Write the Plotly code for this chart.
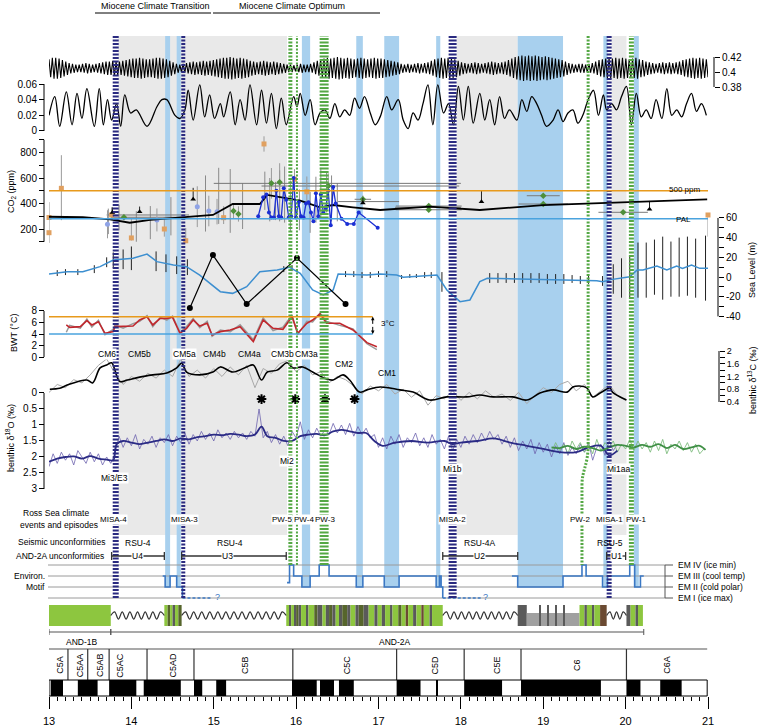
import numpy as np
import plotly.graph_objects as go

W, H = 759, 726

# ---------------- data (ages in Ma) ----------------
# obliquity: amplitude of each ~41 kyr cycle (x 0.001) around 0.405
obl_amp = [12, 14, 14, 13, 11,
           9, 7, 6, 5, 5, 6, 7, 6, 5, 6, 7,
           8, 9, 9, 10, 9, 9, 10,
           11, 12, 13, 13, 14, 13, 12, 12,
           13, 14, 14, 13, 12, 10, 8,
           6, 5, 6,
           7, 8, 9, 8, 9, 10, 9, 10,
           11, 12, 13, 14, 14, 15, 14, 13, 14, 13, 12,
           10, 9, 8, 9, 10, 9, 8, 9, 8, 7,
           6, 5, 5, 4, 5, 6, 5, 5, 6, 8,
           10, 12, 13, 14, 13, 14, 15, 14, 13, 14, 13, 12, 13, 14, 13, 12, 13, 14, 13,
           13, 12, 11, 10, 9, 8,
           6, 5, 6, 5, 6, 7, 6, 7, 8,
           10, 12, 13, 14, 13, 14, 13, 12, 10,
           8, 7, 6, 7, 8, 7, 6, 7, 8, 9, 8, 7, 8, 9,
           11, 13, 15, 16, 17, 16, 17, 16, 17, 16, 15, 16, 15, 14, 13, 12, 11, 9,
           7, 6, 5, 6, 6, 5, 6, 7,
           9, 11, 12, 13, 14, 13, 14, 13, 14, 13, 12, 13, 14, 12, 11, 9,
           8, 7, 6, 7, 8, 7, 8, 7, 8, 9,
           11, 12, 13, 14, 13, 14, 13, 12]

ecc_age = [13.00, 13.07, 13.13, 13.21, 13.28, 13.34, 13.40, 13.46, 13.55, 13.61, 13.66, 13.71, 13.76, 13.82,
           13.87, 13.92, 13.99, 14.06, 14.19, 14.31, 14.37, 14.43, 14.53, 14.59, 14.65, 14.69, 14.75, 14.83,
           14.89, 14.95, 15.01, 15.08, 15.12, 15.20, 15.26, 15.32, 15.38, 15.44, 15.52, 15.58, 15.64, 15.70,
           15.76, 15.82, 15.88, 15.97, 16.01, 16.05, 16.11, 16.17, 16.23, 16.29, 16.35, 16.41, 16.47, 16.53,
           16.59, 16.65, 16.71, 16.77, 16.83, 16.90, 16.96, 17.02, 17.10, 17.16, 17.24, 17.30, 17.36, 17.42,
           17.48, 17.54, 17.60, 17.66, 17.72, 17.79, 17.85, 17.91, 17.97, 18.03, 18.09, 18.15, 18.23, 18.29,
           18.35, 18.41, 18.47, 18.53, 18.59, 18.68, 18.74, 18.80, 18.86, 18.92, 18.98, 19.04, 19.12, 19.18,
           19.24, 19.30, 19.36, 19.42, 19.48, 19.545, 19.61, 19.67, 19.73, 19.77, 19.83, 19.89, 19.95, 20.01,
           20.07, 20.13, 20.19, 20.25, 20.31, 20.37, 20.44, 20.50, 20.56, 20.62, 20.68, 20.74, 20.80, 20.86,
           20.92, 20.98]
ecc_val = [0.020, 0.044, 0.006, 0.050, 0.008, 0.048, 0.016, 0.054, 0.006, 0.054, 0.008, 0.040, 0.014, 0.035,
           0.006, 0.046, 0.023, 0.027, 0.006, 0.031, 0.040, 0.040, 0.020, 0.016, 0.027, 0.052, 0.014, 0.059,
           0.018, 0.046, 0.016, 0.035, 0.018, 0.050, 0.008, 0.040, 0.014, 0.059, 0.008, 0.052, 0.010, 0.048,
           0.003, 0.042, 0.008, 0.044, 0.031, 0.048, 0.020, 0.040, 0.008, 0.023, 0.027, 0.016, 0.035, 0.018,
           0.027, 0.020, 0.042, 0.029, 0.044, 0.023, 0.008, 0.018, 0.044, 0.027, 0.040, 0.014, 0.003, 0.023,
           0.014, 0.035, 0.059, 0.008, 0.059, 0.023, 0.035, 0.008, 0.057, 0.014, 0.057, 0.010, 0.048, 0.014,
           0.040, 0.008, 0.044, 0.016, 0.027, 0.014, 0.040, 0.025, 0.044, 0.035, 0.020, 0.006, 0.014, 0.027,
           0.012, 0.023, 0.027, 0.010, 0.020, 0.040, 0.052, 0.020, 0.046, 0.027, 0.035, 0.027, 0.044, 0.057,
           0.008, 0.048, 0.018, 0.027, 0.016, 0.040, 0.016, 0.054, 0.020, 0.027, 0.018, 0.035, 0.048, 0.025,
           0.035, 0.020]

# CO2 (ppm)
co2_line_age = [13.00, 13.41, 13.74, 13.98, 14.23, 14.63, 14.99, 15.23, 15.56, 15.65, 15.77, 15.92, 16.05,
                16.29, 16.45, 16.69, 17.02, 17.62, 18.23, 19.00, 20.99]
co2_line_val = [296, 292, 276, 249, 271, 292, 310, 396, 396, 467, 453, 433, 422, 370, 388, 370, 349, 375,
                349, 388, 433]
stoma_age = [15.54, 15.60, 15.64, 15.67, 15.70, 15.73, 15.76, 15.79, 15.82, 15.85, 15.88, 15.91, 15.94,
             15.97, 16.00, 16.03, 16.06, 16.09, 16.12, 16.15, 16.18, 16.21, 16.24, 16.27, 16.30, 16.33,
             16.36, 16.39, 16.42, 16.45, 16.48, 16.55, 16.62, 16.70, 16.76, 16.99]
stoma_val = [300, 450, 470, 330, 290, 290, 500, 300, 290, 520, 430, 290, 300, 600, 290, 410, 300, 290,
             400, 410, 330, 260, 480, 300, 470, 330, 360, 500, 230, 530, 400, 280, 240, 240, 330, 210]
sq_age = [13.00, 13.00, 13.15, 13.76, 14.00, 14.40, 14.66, 15.12, 15.61, 15.98, 16.13, 21.00]
sq_val = [171, 290, 519, 310, 130, 200, 108, 289, 867, 590, 492, 310]
sq_up = [240, 20, 260, 60, 150, 80, 100, 90, 60, 80, 120, 0]
sq_dn = [80, 20, 250, 40, 20, 60, 20, 50, 60, 300, 100, 170]
dm_age = [13.91, 15.24, 15.30, 15.70, 15.80, 16.39, 16.81, 17.61, 17.61, 19.00, 19.00, 19.97]
dm_val = [292, 341, 318, 558, 566, 537, 433, 380, 351, 461, 396, 331]
dm_ex = [0, 0, 0, 0, 0, 0, 0.1, 0.4, 0.4, 0.2, 0.3, 0.3]
dm_ey = [20, 60, 60, 120, 150, 100, 30, 0, 0, 0, 0, 0]
tri_age = [13.77, 14.10, 14.75, 16.81, 18.25, 20.29]
tri_val = [330, 336, 433, 404, 414, 354]
tri_up = [40, 40, 90, 40, 86, 66]
ci_age = [13.71, 14.31, 14.80, 14.94, 15.04]
ci_val = [237, 271, 375, 341, 336]
ci_err = [110, 90, 160, 120, 100]
bar_age = [13.72, 13.85, 14.06, 14.23, 14.48, 14.90, 15.06, 15.20, 15.35, 15.62, 15.68, 15.75, 15.80,
           15.86, 15.93, 16.04, 16.17, 16.24, 16.30, 16.37, 16.43, 16.50]
bar_val = [260, 290, 220, 250, 300, 400, 460, 420, 380, 500, 430, 420, 460, 470, 380, 350, 330, 430, 480,
           490, 440, 410]
bar_err = [100, 100, 120, 130, 150, 220, 220, 250, 180, 150, 170, 150, 200, 220, 200, 160, 160, 180, 200,
           160, 180, 150]
hz_age = [16.50, 16.78, 16.88, 14.20, 14.20, 17.60]
hz_val = [558, 537, 415, 310, 292, 370]
hz_half = [1.5, 1.2, 0.37, 0.5, 0.45, 0.4]
CO2_500, CO2_PAL = 500, 280

# sea level (m)
sl_age = [13.00, 13.22, 13.41, 13.62, 13.78, 14.02, 14.19, 14.31, 14.51, 14.67, 14.83, 15.08, 15.23, 15.40,
          15.56, 15.77, 15.92, 16.05, 16.20, 16.33, 16.45, 16.51, 16.86, 17.02, 17.22, 17.30, 17.71, 17.83,
          17.99, 18.11, 18.23, 18.32, 19.65, 19.72, 19.84, 20.05, 20.14, 20.21, 20.38, 20.50, 20.62, 20.69,
          20.80, 20.90, 21.00]
sl_val = [3.0, 5.4, 5.4, 10.5, 17.3, 19.0, 23.3, 15.6, 12.2, 10.5, 2.0, -14.9, -16.6, -9.8, 5.4, 7.1, 9.8,
          3.7, -13.2, -18.3, -13.2, 3.0, 2.0, 3.0, 2.0, -0.3, 2.0, -13.2, -25.0, -23.3, -4.7, -1.3, -3.7,
          -4.7, -2.4, 0.3, 7.1, 7.1, 11.2, 7.1, 11.2, 8.8, 12.2, 8.8, 8.8]
sle_age = [13.10, 13.20, 13.35, 13.55, 13.70, 13.78, 13.90, 14.00, 14.30, 14.42, 14.55, 14.68, 15.85, 15.95,
           16.60, 16.70, 16.80, 16.90, 17.00, 17.10, 17.28, 17.38, 17.46, 17.56, 17.64, 17.77, 18.35, 18.45,
           18.55, 18.65, 18.75, 18.85, 18.95, 19.05, 19.15, 19.25, 19.35, 19.45, 19.55, 19.72, 19.85, 19.95,
           20.05, 20.15, 20.25, 20.35, 20.45, 20.55, 20.65, 20.75, 20.85, 20.97]
sle_val = [4, 5, 5, 8, 15, 17, 18, 19, 16, 14, 12, 10, 8, 9, 3, 3, 2, 2, 3, 3, 0, 1, 1, 2, 2, -5, -1, -1, -1,
           -1, -1, -1, -1, -2, -2, -2, -2, -3, -3, -4, -2, -1, 0, 7, 7, 10, 9, 8, 10, 11, 9, 9]
sle_err = [3, 3, 3, 4, 5, 8, 10, 12, 10, 9, 9, 8, 3, 3, 3, 3, 3, 3, 3, 3, 2, 2, 2, 3, 3, 10, 5, 5, 5, 5, 5,
           5, 5, 5, 5, 5, 4, 4, 4, 5, 15, 20, 22, 28, 28, 28, 32, 28, 30, 30, 30, 33]
dot_age = [14.71, 14.99, 15.40, 16.01, 16.60]
dot_val = [-31.5, 22.3, -27.4, 19.3, -27.4]

# bottom water temperature (deg C)
bwt_age = [13.21, 13.25, 13.38, 13.46, 13.52, 13.60, 13.68, 13.78, 13.80, 13.90, 14.02, 14.10, 14.19, 14.26,
           14.35, 14.43, 14.50, 14.59, 14.67, 14.75, 14.83, 14.92, 14.98, 15.08, 15.20, 15.32, 15.48, 15.60,
           15.72, 15.84, 15.95, 16.02, 16.13, 16.20, 16.29, 16.37, 16.53, 16.69, 16.86, 16.98]
bwt_red = [5.57, 5.16, 5.28, 6.32, 5.57, 6.14, 4.12, 4.41, 5.28, 5.28, 5.39, 6.43, 7.0, 5.57, 6.72, 6.72,
           6.9, 4.12, 4.99, 6.43, 5.39, 5.86, 3.83, 4.41, 4.70, 5.28, 2.67, 6.43, 4.99, 4.81, 7.0, 4.12,
           5.86, 6.43, 7.48, 5.86, 5.86, 4.70, 2.49, 1.80]
bwt_gray = [4.3, 5.5, 5.0, 6.6, 5.2, 6.4, 3.9, 4.8, 5.6, 5.0, 5.8, 6.2, 7.2, 5.3, 6.9, 6.4, 7.1, 4.3, 5.3,
            6.7, 5.1, 6.2, 3.6, 4.7, 4.4, 5.6, 3.0, 6.8, 4.6, 5.2, 7.3, 3.9, 6.2, 6.1, 7.6, 6.2, 5.5, 4.9,
            2.3, 1.3]
BWT_HI, BWT_LO = 7, 4

# benthic d13C (permil)
d13c_age = [13.01, 13.13, 13.22, 13.46, 13.53, 13.62, 13.70, 13.76, 13.80, 13.86, 13.95, 14.10, 14.26, 14.43,
            14.55, 14.61, 14.67, 14.83, 14.99, 15.08, 15.23, 15.40, 15.48, 15.58, 15.65, 15.77, 15.89, 15.96,
            16.08, 16.20, 16.37, 16.45, 16.57, 16.65, 16.77, 16.86, 17.02, 17.26, 17.42, 17.62, 17.83, 18.07,
            18.23, 18.39, 18.63, 18.80, 18.96, 19.12, 19.29, 19.36, 19.44, 19.53, 19.60, 19.69, 19.81, 19.84,
            20.01]
d13c_val = [0.80, 0.83, 0.93, 1.09, 1.00, 1.47, 1.56, 1.63, 1.40, 1.04, 1.09, 1.18, 1.25, 1.31, 1.47, 1.62,
            1.34, 1.25, 1.34, 1.50, 1.34, 1.50, 1.56, 1.09, 1.34, 1.40, 1.63, 1.47, 1.50, 1.34, 1.12, 1.09,
            1.25, 1.09, 0.71, 0.78, 0.87, 0.78, 0.71, 0.46, 0.56, 0.56, 0.62, 0.56, 0.56, 0.46, 0.68, 0.78,
            0.71, 0.87, 0.90, 0.84, 0.56, 0.68, 0.84, 0.71, 0.46]
d13c_gray = [0.70, 0.95, 0.85, 1.10, 1.00, 1.25, 1.55, 1.75, 1.30, 0.95,
             1.20, 1.05, 1.30, 1.15, 1.40, 1.20, 1.75, 1.20, 1.40, 1.15,
             1.45, 1.20, 1.50, 1.25, 1.55, 0.85, 1.45, 1.30, 1.60, 1.70,
             1.35, 1.55, 1.25, 1.35, 1.00, 1.20, 1.10, 0.90, 0.65, 0.90,
             0.75, 0.95, 0.65, 0.80, 0.55, 0.75, 0.30, 0.60, 0.50, 0.75,
             0.45, 0.70, 0.50, 0.75, 0.55, 0.65, 0.45, 0.70, 0.35, 0.60,
             0.85, 0.70, 0.95, 1.05, 0.75, 0.95, 0.55, 0.75, 0.95, 0.60,
             0.45]
star_age = [15.58, 15.99, 16.35, 16.71]

# benthic d18O (permil)
d18o_age = [13.0, 13.1, 13.2, 13.3, 13.4, 13.5, 13.6, 13.7, 13.78, 13.82, 13.9, 14.0, 14.1, 14.2, 14.3, 14.4,
            14.5, 14.6, 14.7, 14.8, 14.9, 15.0, 15.1, 15.2, 15.3, 15.4, 15.5, 15.58, 15.65, 15.75, 15.85,
            15.95, 16.05, 16.15, 16.25, 16.35, 16.45, 16.55, 16.65, 16.75, 16.85, 16.95, 17.05, 17.2, 17.4,
            17.6, 17.8, 17.9, 18.0, 18.2, 18.4, 18.6, 18.8, 19.0, 19.2, 19.4, 19.55, 19.7, 19.8, 19.9]
d18o_val = [2.15, 2.05, 2.0, 1.98, 2.05, 1.97, 2.05, 2.08, 2.1, 1.6, 1.5, 1.55, 1.6, 1.55, 1.5, 1.45, 1.5,
            1.42, 1.45, 1.38, 1.35, 1.3, 1.32, 1.28, 1.3, 1.35, 1.3, 1.05, 1.35, 1.4, 1.5, 1.5, 1.35, 1.3,
            1.28, 1.32, 1.2, 1.15, 1.2, 1.25, 1.25, 1.5, 1.65, 1.55, 1.5, 1.55, 1.5, 1.6, 1.55, 1.5, 1.42,
            1.55, 1.65, 1.75, 1.85, 1.85, 1.7, 1.65, 1.95, 1.8]
d18o_raw = [2.30, 1.90, 2.20, 1.85, 2.10, 1.90, 2.25, 1.80, 2.00, 2.20, 1.85, 2.15, 1.90, 2.25, 2.00, 2.20,
            1.90, 1.35, 1.70, 1.40, 1.65, 1.30, 1.75, 1.45, 1.60, 1.35, 1.70, 1.40, 1.55, 1.30, 1.65, 1.35,
            1.55, 1.25, 1.60, 1.30, 1.50, 1.20, 1.45, 1.25, 1.50, 1.15, 1.40, 1.25, 1.45, 1.20, 1.40, 1.25,
            1.45, 1.20, 1.35, 0.50, 1.40, 1.20, 1.55, 1.30, 1.60, 1.35, 1.65, 1.20, 1.40, 0.90, 1.45, 1.15,
            1.40, 1.10, 1.35, 1.15, 1.30, 0.95, 1.25, 1.00, 1.30, 0.95, 1.35, 1.05, 1.30, 1.10, 1.40, 1.30,
            1.70, 1.40, 1.75, 1.35, 1.60, 1.30, 1.70, 1.40, 1.55, 1.25, 1.65, 1.40, 1.70, 1.30, 1.60, 1.45,
            1.75, 1.35, 1.80, 1.45, 1.70, 1.35, 1.60, 1.30, 1.55, 1.25, 1.50, 1.20, 1.45, 1.30, 1.60, 1.35,
            1.70, 1.40, 1.80, 1.50, 1.75, 1.45, 1.90, 1.55, 1.85, 1.60, 2.00, 1.65, 1.90, 1.55, 1.95, 1.70,
            1.90, 1.60, 1.85, 1.55, 2.10, 1.70, 1.60, 1.95, 1.50, 1.80, 1.60]
green_age = [19.1, 19.2, 19.3, 19.4, 19.5, 19.6, 19.7, 19.8, 19.9, 20.0, 20.1, 20.2, 20.3, 20.4, 20.5, 20.6,
             20.7, 20.8, 20.9, 20.97]
green_val = [1.7, 1.72, 1.65, 1.75, 1.68, 1.72, 1.8, 1.7, 1.62, 1.65, 1.7, 1.62, 1.68, 1.6, 1.72, 1.62,
             1.75, 1.7, 1.65, 1.78]
green_raw = [1.85, 1.55, 1.80, 1.60, 1.90, 1.50, 1.75, 1.55, 1.85, 1.60, 1.90, 1.45, 1.80, 1.55, 1.70, 1.50,
             1.85, 1.60, 1.75, 1.45, 1.80, 1.50, 1.75, 1.55, 1.85, 1.50, 1.80, 1.45, 1.90, 1.60, 1.75, 1.50,
             1.80, 1.55, 1.85, 1.60, 1.90, 1.75]

# environmental motif (1 = EM I ... 4 = EM IV)
motif_age = [14.38, 14.41, 14.47, 14.55, 14.62, None,
             15.89, 15.92, 15.97, 16.07, 16.17, 16.28, 16.40, 16.73, 16.81, 17.07, 17.25, 17.70, 17.74,
             17.76, 17.78, None,
             18.62, 18.69, 19.24, 19.47, 19.52, 19.72, 19.78, 20.05, 20.11, 20.18, 20.22]
motif_lvl = [3, 2, 3, 2, 1, None,
             2.4, 4, 3, 2, 3, 4, 3, 2, 3, 2, 3, 2, 3, 2, 1, None,
             3, 2, 3, 4, 3, 2, 3, 4, 2, 3, 3]
motif_guess = [(14.62, 14.98), (17.78, 18.24)]

# lithology (start, end, kind)
litho = [(13.00, 13.75, 'G'),
         (14.40, 14.44, 'G'), (14.44, 14.47, 'O'), (14.47, 14.50, 'G'), (14.50, 14.53, 'D'),
         (14.53, 14.57, 'G'), (14.57, 14.61, 'O'),
         (15.88, 15.92, 'G'), (15.92, 15.94, 'D'), (15.94, 15.98, 'G'), (15.98, 16.00, 'D'),
         (16.00, 16.03, 'O'), (16.03, 16.06, 'D'), (16.06, 16.13, 'G'), (16.13, 16.15, 'D'),
         (16.15, 16.22, 'G'), (16.22, 16.26, 'O'), (16.26, 16.32, 'D'), (16.32, 16.36, 'G'),
         (16.36, 16.40, 'D'), (16.40, 16.44, 'O'), (16.44, 16.48, 'D'), (16.48, 16.52, 'G'),
         (16.52, 16.56, 'D'), (16.56, 16.62, 'O'), (16.62, 16.66, 'D'), (16.66, 16.72, 'G'),
         (16.72, 16.76, 'D'), (16.76, 16.82, 'O'), (16.82, 16.88, 'D'), (16.88, 16.95, 'G'),
         (16.95, 16.99, 'D'), (16.99, 17.04, 'G'), (17.04, 17.08, 'D'), (17.08, 17.14, 'G'),
         (17.14, 17.17, 'D'), (17.17, 17.24, 'G'), (17.24, 17.28, 'O'), (17.28, 17.33, 'G'),
         (17.33, 17.36, 'B'), (17.36, 17.42, 'G'), (17.42, 17.46, 'D'), (17.46, 17.52, 'G'),
         (17.52, 17.55, 'B'), (17.55, 17.62, 'G'), (17.62, 17.65, 'D'), (17.65, 17.78, 'G'),
         (18.69, 18.80, 'D'), (18.80, 19.44, 'L'), (18.95, 18.965, 'D'), (19.05, 19.06, 'D'),
         (19.15, 19.165, 'D'), (19.25, 19.26, 'D'),
         (19.44, 19.50, 'G'), (19.50, 19.53, 'D'), (19.53, 19.60, 'G'), (19.60, 19.62, 'D'),
         (19.62, 19.69, 'G'), (19.69, 19.77, 'B'),
         (20.01, 20.06, 'D'), (20.06, 20.12, 'G'), (20.12, 20.15, 'D'), (20.15, 20.21, 'G')]
hiatus = [(13.75, 14.40), (14.61, 15.88), (17.78, 18.69), (19.77, 20.01)]

# magnetic polarity chrons
chron_bounds = [13.23, 13.47, 13.73, 14.19, 14.76, 15.96, 17.22, 18.04, 18.73, 20.01]
chron_names = ['C5A', 'C5AA', 'C5AB', 'C5AC', 'C5AD', 'C5B', 'C5C', 'C5D', 'C5E', 'C6', 'C6A']
chron_mid = [13.13, 13.38, 13.62, 13.86, 14.50, 15.38, 16.62, 17.68, 18.44, 19.41, 20.50]
normal = [(13.02, 13.17), (13.35, 13.59), (13.73, 14.06), (14.15, 14.60), (14.76, 14.86), (15.03, 15.15),
          (15.95, 16.25), (16.29, 16.46), (16.52, 16.70), (17.22, 17.51), (17.71, 17.72), (18.04, 18.50),
          (18.73, 19.70), (20.01, 20.18), (20.42, 20.68)]

# event markers
blue_bands = [(14.41, 14.47), (14.55, 14.60), (16.07, 16.17), (16.73, 16.81), (17.07, 17.25),
              (17.70, 17.75), (18.69, 19.24), (19.73, 19.78), (20.10, 20.16)]
gray_bands = [(13.84, 15.89), (17.95, 18.69), (19.83, 20.01)]
misa = [('MISA-4', 13.81, 6), ('MISA-3', 14.63, 4), ('MISA-2', 17.90, 8), ('MISA-1', 19.80, 5)]
pw_lines = [(15.93, 4), (16.01, 2), (16.34, 9), (20.07, 5)]
periods = ['Miocene Climate Transition', 'Miocene Climate Optimum']
period_mid = [14.29, 15.95]

# ---------------- helpers ----------------
def P(row):
    return 1 - row / H


def X(col):
    return col / W


FONT = 'Liberation Sans'
NAVY = '#2b2b85'
fig = go.Figure()

# period titles (text trace on a small strip axis at the very top)
fig.add_trace(go.Scatter(x=period_mid, y=[6.5, 6.5], yaxis='y11', mode='text', text=periods,
                         textposition='middle center', cliponaxis=False,
                         textfont=dict(family=FONT, size=9, color='black')))

# orbital curves
obl_age = np.linspace(13, 21, 2 * len(obl_amp))
obl_val = []
for a in obl_amp:
    obl_val += [0.405 + a / 1000, 0.405 - a / 1000]
fig.add_trace(go.Scatter(x=obl_age, y=obl_val, yaxis='y', mode='lines',
                         line=dict(color='black', width=1.1)))
fig.add_trace(go.Scatter(x=ecc_age, y=ecc_val, yaxis='y2', mode='lines', line_shape='spline',
                         line=dict(color='black', width=1.3)))

# CO2
fig.add_trace(go.Scatter(x=bar_age, y=bar_val, yaxis='y3', mode='markers',
                         marker=dict(size=1, color='rgba(0,0,0,0)'),
                         error_y=dict(array=bar_err, color='#8a8a8a', thickness=1, width=0)))
fig.add_trace(go.Scatter(x=hz_age, y=hz_val, yaxis='y3', mode='markers',
                         marker=dict(size=1, color='rgba(0,0,0,0)'),
                         error_x=dict(array=hz_half, color='#777777', thickness=1, width=0)))
fig.add_trace(go.Scatter(x=sq_age, y=sq_val, yaxis='y3', mode='markers', cliponaxis=False,
                         marker=dict(symbol='square', size=5, color='#e0a060'),
                         error_y=dict(array=sq_up, arrayminus=sq_dn, color='#9a9a9a', thickness=1, width=0)))
fig.add_trace(go.Scatter(x=dm_age, y=dm_val, yaxis='y3', mode='markers',
                         marker=dict(symbol='diamond', size=5, color='#4f8f3a'),
                         error_y=dict(array=dm_ey, color='#9a9a9a', thickness=1, width=0),
                         error_x=dict(array=dm_ex, color='#7a7a7a', thickness=1, width=0)))
fig.add_trace(go.Scatter(x=tri_age, y=tri_val, yaxis='y3', mode='markers',
                         marker=dict(symbol='triangle-up', size=5, color='black'),
                         error_y=dict(array=tri_up, arrayminus=[0] * len(tri_up), color='#222222',
                                      thickness=1, width=0)))
fig.add_trace(go.Scatter(x=ci_age, y=ci_val, yaxis='y3', mode='markers',
                         marker=dict(size=5, color='#8fa3e6'),
                         error_y=dict(array=ci_err, color='#9a9a9a', thickness=1, width=0)))
fig.add_trace(go.Scatter(x=co2_line_age, y=co2_line_val, yaxis='y3', mode='lines',
                         line=dict(color='black', width=1.8)))
fig.add_trace(go.Scatter(x=stoma_age, y=stoma_val, yaxis='y3', mode='lines+markers',
                         line=dict(color='#1b2fd4', width=1.3), marker=dict(size=4, color='#1b2fd4')))

# sea level
fig.add_trace(go.Scatter(x=sle_age, y=sle_val, yaxis='y4', mode='markers',
                         marker=dict(size=1, color='rgba(0,0,0,0)'),
                         error_y=dict(array=sle_err, color='#222222', thickness=1, width=0)))
fig.add_trace(go.Scatter(x=sl_age, y=sl_val, yaxis='y4', mode='lines',
                         line=dict(color='#3d8fd0', width=1.5)))
fig.add_trace(go.Scatter(x=dot_age, y=dot_val, yaxis='y4', mode='lines+markers',
                         line=dict(color='black', width=1.2), marker=dict(size=6, color='black')))

# BWT
fig.add_trace(go.Scatter(x=bwt_age, y=bwt_gray, yaxis='y5', mode='lines',
                         line=dict(color='#9a9a9a', width=1.5)))
fig.add_trace(go.Scatter(x=bwt_age, y=bwt_red, yaxis='y5', mode='lines',
                         line=dict(color='#c1272d', width=1.6)))

# d13C
d13c_gray_age = np.round(np.arange(13.0, 20.001, 0.1), 2)
fig.add_trace(go.Scatter(x=d13c_gray_age, y=d13c_gray, yaxis='y6', mode='lines',
                         line=dict(color='#a8a8a8', width=1)))
fig.add_trace(go.Scatter(x=d13c_age, y=d13c_val, yaxis='y6', mode='lines', line_shape='spline',
                         line=dict(color='black', width=1.6)))
fig.add_trace(go.Scatter(x=star_age, y=[0.49] * len(star_age), yaxis='y6', mode='markers',
                         marker=dict(symbol='asterisk-open', size=8, color='black',
                                     line=dict(width=2, color='black'))))

# d18O
raw_age = np.round(np.arange(13.0, 19.901, 0.05), 2)
green_raw_age = np.round(np.arange(19.1, 20.951, 0.05), 2)
fig.add_trace(go.Scatter(x=raw_age, y=d18o_raw, yaxis='y7', mode='lines',
                         line=dict(color='rgba(110,100,175,0.8)', width=1)))
fig.add_trace(go.Scatter(x=green_raw_age, y=green_raw, yaxis='y7', mode='lines',
                         line=dict(color='rgba(120,185,120,0.85)', width=1)))
fig.add_trace(go.Scatter(x=d18o_age, y=d18o_val, yaxis='y7', mode='lines', line_shape='spline',
                         line=dict(color=NAVY, width=1.8)))
fig.add_trace(go.Scatter(x=green_age, y=green_val, yaxis='y7', mode='lines', line_shape='spline',
                         line=dict(color='#3f8f45', width=1.8)))

# motif
fig.add_trace(go.Scatter(x=motif_age, y=motif_lvl, yaxis='y8', mode='lines', line_shape='hv',
                         connectgaps=False, line=dict(color='#3b78c4', width=1.6)))
for a, b in motif_guess:
    fig.add_trace(go.Scatter(x=[a, b], y=[1, 1], yaxis='y8', mode='lines',
                             line=dict(color='#3b78c4', width=1.3, dash='3px,2px')))
    fig.add_annotation(x=b + 0.06, y=1.1, xref='x', yref='y8', text='?', showarrow=False,
                       font=dict(family=FONT, size=9, color='#3b78c4'))

# lithology
LC = {'G': '#8dc63f', 'O': '#56652c', 'D': '#5a5a5a', 'B': '#6b4a32', 'L': '#a0a0a0'}
fig.add_trace(go.Bar(x=[(s + e) / 2 for s, e, k in litho], width=[e - s for s, e, k in litho],
                     y=[0.62 if k == 'L' else 1 for s, e, k in litho], base=0, yaxis='y10',
                     marker=dict(color=[LC[k] for s, e, k in litho], line=dict(width=0))))
for a, b in hiatus:
    n = max(2, int(round((b - a) / 0.095)))
    wx = np.linspace(a, b, 2 * n + 1)
    wy = [0.5 + (0.17 if i % 2 else -0.17) if 0 < i < 2 * n else 0.5 for i in range(2 * n + 1)]
    fig.add_trace(go.Scatter(x=wx, y=wy, yaxis='y10', mode='lines', line_shape='spline',
                             line=dict(color='#333333', width=1.2)))

# polarity
fig.add_trace(go.Bar(x=[(s + e) / 2 for s, e in normal], width=[e - s for s, e in normal],
                     y=[1] * len(normal), base=0, yaxis='y9', marker=dict(color='black', line=dict(width=0))))

# ---------------- shapes ----------------
shapes = []
for a, b in gray_bands:
    shapes.append(dict(type='rect', xref='x', yref='paper', x0=a, x1=b, y0=P(535), y1=P(36),
                       fillcolor='#e9e9e9', line=dict(width=0), layer='below'))
for a, b in blue_bands:
    shapes.append(dict(type='rect', xref='x', yref='paper', x0=a, x1=b, y0=P(587), y1=P(36),
                       fillcolor='#a8d0ee', line=dict(width=0), layer='below'))
for name, age, w in misa:
    shapes.append(dict(type='line', xref='x', yref='paper', x0=age, x1=age, y0=P(598), y1=P(36),
                       line=dict(color='#2a2a80', width=w, dash='2px,1.5px'), layer='above'))
for age, w in pw_lines:
    shapes.append(dict(type='line', xref='x', yref='paper', x0=age, x1=age, y0=P(565), y1=P(36),
                       line=dict(color='#55a845', width=w, dash='2px,1.5px'), layer='above'))
shapes.append(dict(type='path', xref='x', yref='paper',
                   path=f'M 19.545,{P(36)} L 19.545,{P(445)} C 19.545,{P(465)} 19.47,{P(470)} '
                        f'19.47,{P(485)} L 19.47,{P(565)}',
                   line=dict(color='#55a845', width=3, dash='2px,1.5px'), layer='above'))

# axis spines
for yr, lo, hi, col in [('y', 0.38, 0.42, 714), ('y2', 0, 0.06, 44), ('y3', 100, 900, 44),
                        ('y4', -40, 60, 718), ('y5', 0, 8, 44), ('y6', 0.4, 2, 719), ('y7', 0, 3, 44)]:
    shapes.append(dict(type='line', xref='paper', yref=yr, x0=X(col), x1=X(col), y0=lo, y1=hi,
                       line=dict(color='black', width=1)))

# CO2 reference lines, BWT reference lines
shapes.append(dict(type='line', xref='x', yref='y3', x0=12.98, x1=21.06, y0=CO2_500, y1=CO2_500,
                   line=dict(color='#e89a1c', width=1.6)))
shapes.append(dict(type='line', xref='x', yref='y3', x0=12.98, x1=21.06, y0=CO2_PAL, y1=CO2_PAL,
                   line=dict(color='#4aa3de', width=1.6)))
shapes.append(dict(type='line', xref='x', yref='y5', x0=12.98, x1=16.93, y0=BWT_HI, y1=BWT_HI,
                   line=dict(color='#e89a1c', width=1.5)))
shapes.append(dict(type='line', xref='x', yref='y5', x0=12.98, x1=16.93, y0=BWT_LO, y1=BWT_LO,
                   line=dict(color='#4aa3de', width=1.5)))

# top period bars
shapes.append(dict(type='line', xref='paper', yref='paper', x0=X(95), x1=X(211), y0=P(13), y1=P(13),
                   line=dict(color='black', width=1)))
shapes.append(dict(type='line', xref='paper', yref='paper', x0=X(213), x1=X(380), y0=P(13), y1=P(13),
                   line=dict(color='black', width=1)))

# unconformity brackets
for a, b in [(13.76, 14.40), (14.61, 15.88), (17.78, 18.69), (19.77, 20.00)]:
    shapes.append(dict(type='line', xref='x', yref='paper', x0=a, x1=b, y0=P(556), y1=P(556),
                       line=dict(color='#333', width=1.3)))
    for e in (a, b):
        shapes.append(dict(type='line', xref='x', yref='paper', x0=e, x1=e, y0=P(552), y1=P(560),
                           line=dict(color='#333', width=1.3)))

# environmental motif grid
for row in [565, 576, 587, 598]:
    shapes.append(dict(type='line', xref='paper', yref='paper', x0=X(48), x1=X(665), y0=P(row), y1=P(row),
                       line=dict(color='#9a9a9a', width=1), layer='below'))
    shapes.append(dict(type='line', xref='paper', yref='paper', x0=X(665), x1=X(673), y0=P(row), y1=P(row),
                       line=dict(color='#555', width=1)))
shapes.append(dict(type='line', xref='paper', yref='paper', x0=X(665), x1=X(665), y0=P(598), y1=P(565),
                   line=dict(color='#555', width=1)))

# core brackets
for a, b in [(13.0, 13.75), (13.75, 20.22)]:
    shapes.append(dict(type='line', xref='x', yref='paper', x0=a, x1=b, y0=P(632), y1=P(632),
                       line=dict(color='#555', width=1.2)))
    for e in (a, b):
        shapes.append(dict(type='line', xref='x', yref='paper', x0=e, x1=e, y0=P(629), y1=P(635),
                           line=dict(color='#555', width=1)))

# chron box
shapes.append(dict(type='line', xref='x', yref='paper', x0=13.0, x1=20.99, y0=P(649), y1=P(649),
                   line=dict(color='#555', width=1.2)))
for b in chron_bounds:
    shapes.append(dict(type='line', xref='x', yref='paper', x0=b, x1=b, y0=P(680), y1=P(649),
                       line=dict(color='#333', width=1.2)))
shapes.append(dict(type='rect', xref='x', yref='paper', x0=13.0, x1=20.99, y0=P(696), y1=P(680),
                   line=dict(color='black', width=1)))

# ---------------- annotations ----------------
ann = []


def note(text, x, row, size=8.5, xref='x', anchor='center', bg=None, angle=0, color='black'):
    d = dict(text=text, x=x, y=P(row), xref=xref, yref='paper', showarrow=False, xanchor=anchor,
             yanchor='middle', textangle=angle, font=dict(family=FONT, size=size, color=color))
    if bg:
        d['bgcolor'] = bg
        d['borderpad'] = 0
    ann.append(d)


note('◀', 16.55, 27, 9)
note('Monterey Excursion onset', 16.66, 27, 8.5, anchor='left')
note('500 ppm', 20.72, 190, 8)
note('PAL', 20.70, 220, 8)
note('3°C', 17.00, 323, 8, anchor='left')
for t, a, r in [('CM6', 13.70, 354), ('CM5b', 14.10, 354), ('CM5a', 14.65, 354), ('CM4b', 15.01, 354),
                ('CM4a', 15.43, 354), ('CM3b', 15.83, 354), ('CM3a', 16.13, 354), ('CM2', 16.58, 364),
                ('CM1', 17.10, 373)]:
    note(t, a, r, 8.5, bg='white' if t in ('CM6', 'CM5a', 'CM3b', 'CM3a') else None)
for t, a, r in [('Mi3/E3', 13.80, 478), ('Mi2', 15.89, 461), ('Mi1b', 17.90, 469), ('Mi1aa', 19.91, 469)]:
    note(t, a, r, 8.5, bg='white')
for t, a in [('MISA-4', 13.78), ('MISA-3', 14.65), ('PW-5', 15.83), ('PW-4', 16.09), ('PW-3', 16.35),
             ('MISA-2', 17.90), ('PW-2', 19.44), ('MISA-1', 19.81), ('PW-1', 20.13)]:
    note(t, a, 519, 8, bg='white')
for t, a in [('RSU-4', 14.08), ('RSU-4', 15.20), ('RSU-4A', 18.23), ('RSU-5', 19.81)]:
    note(t, a, 543, 8.5)
for t, a in [('U4', 14.08), ('U3', 15.17), ('U2', 18.23), ('U1', 19.89)]:
    note(t, a, 556, 8.5, bg='white')
note('Ross Sea climate', X(56), 513, 8.5, xref='paper')
note('events and episodes', X(59), 525, 8.5, xref='paper')
note('Seismic unconformities', X(107), 542, 8.5, xref='paper', anchor='right')
note('AND-2A unconformities', X(106), 556, 8.5, xref='paper', anchor='right')
note('Environ.', X(47), 576, 8.5, xref='paper', anchor='right')
note('Motif', X(47), 587, 8.5, xref='paper', anchor='right')
for t, r in [('EM IV (ice min)', 565), ('EM III (cool temp)', 576), ('EM II (cold polar)', 587),
             ('EM I (ice max)', 598)]:
    note(t, X(676), r, 8.5, xref='paper', anchor='left')
note('AND-1B', 13.40, 642, 8.5)
note('AND-2A', 17.20, 642, 8.5)
for t, a in zip(chron_names, chron_mid):
    note(t, a, 665, 9, angle=-90)
note('CO<sub>2</sub> (ppm)', X(11), 192, 9, xref='paper', angle=-90)
note('BWT (°C)', X(14), 333, 9, xref='paper', angle=-90)
note('benthic δ<sup>18</sup>O (‰)', X(10), 438, 9, xref='paper', angle=-90)
note('benthic δ<sup>13</sup>C (‰)', X(752), 380, 9, xref='paper', angle=-90)
note('Sea Level (m)', X(752), 270, 9, xref='paper', angle=-90)
ann.append(dict(x=16.93, y=BWT_HI, ax=16.93, ay=5.5, xref='x', yref='y5', axref='x', ayref='y5',
                showarrow=True, arrowhead=2, arrowsize=0.7, arrowwidth=1, arrowcolor='black', text=''))
ann.append(dict(x=16.93, y=BWT_LO, ax=16.93, ay=5.5, xref='x', yref='y5', axref='x', ayref='y5',
                showarrow=True, arrowhead=2, arrowsize=0.7, arrowwidth=1, arrowcolor='black', text=''))

# ---------------- axes ----------------
def yax(domain, rng, col, side, tickvals, ticktext=None, size=10):
    d = dict(domain=domain, range=rng, anchor='free', position=X(col), side=side, showgrid=False,
             zeroline=False, showline=False, ticks='outside', ticklen=5, tickwidth=1, tickcolor='black',
             tickvals=tickvals, tickfont=dict(family=FONT, size=size, color='black'), automargin=False)
    if ticktext is not None:
        d['ticktext'] = ticktext
    return d


fig.update_layout(
    template='none',
    width=W, height=H, margin=dict(l=0, r=0, t=0, b=0, pad=0, autoexpand=False),
    paper_bgcolor='white', plot_bgcolor='rgba(0,0,0,0)', showlegend=False, barmode='overlay',
    xaxis=dict(domain=[X(49), X(708)], range=[13, 21], anchor='y9', showgrid=False, zeroline=False,
               showline=False, ticks='outside', tickvals=list(range(13, 22)), ticklen=12, tickwidth=1,
               tickcolor='black', tickfont=dict(family=FONT, size=11, color='black'), ticklabelstandoff=3,
               automargin=False,
               minor=dict(dtick=0.1, tick0=13, ticks='outside', ticklen=4, tickcolor='black', showgrid=False)),
    yaxis=yax([P(100), P(40)], [0.3627, 0.4427], 714, 'right', [0.38, 0.4, 0.42], ['0.38', '0.4', '0.42']),
    yaxis2=yax([P(140), P(75)], [-0.0115, 0.0715], 44, 'left', [0, 0.02, 0.04, 0.06],
               ['0', '0.02', '0.04', '0.06']),
    yaxis3=yax([P(250), P(130)], [35.3, 976.5], 44, 'left', list(range(100, 1000, 100)),
               ['', '200', '', '400', '', '600', '', '800', '']),
    yaxis4=yax([P(330), P(200)], [-53.8, 78.2], 718, 'right', list(range(-40, 70, 10)),
               ['-40', '', '-20', '', '0', '', '20', '', '40', '', '60']),
    yaxis5=yax([P(365), P(290)], [-1.39, 11.65], 44, 'left', [0, 2, 4, 6, 8]),
    yaxis6=yax([P(420), P(340)], [-0.165, 2.345], 719, 'right', [0.4, 0.6, 0.8, 1.0, 1.2, 1.4, 1.6, 1.8, 2.0],
               ['0.4', '', '0.8', '', '1.2', '', '1.6', '', '2'], size=9),
    yaxis7=yax([P(500), P(380)], [3.344, -0.406], 44, 'left', [0, 0.5, 1, 1.5, 2, 2.5, 3],
               ['0', '0.5', '1', '1.5', '2', '2.5', '3']),
    yaxis8=dict(domain=[P(603.5), P(559.5)], range=[0.5, 4.5], anchor='free', position=X(49), visible=False),
    yaxis9=dict(domain=[P(696), P(680)], range=[0, 1], anchor='x', visible=False),
    yaxis10=dict(domain=[P(626), P(605)], range=[0, 1], anchor='free', position=X(49), visible=False),
    yaxis11=dict(domain=[P(14), P(0)], range=[14, 0], anchor='free', position=X(49), visible=False),
    shapes=shapes, annotations=ann,
)

fig.write_html('out.html', config={'displayModeBar': False},
               post_script="document.body.style.margin='0';")
